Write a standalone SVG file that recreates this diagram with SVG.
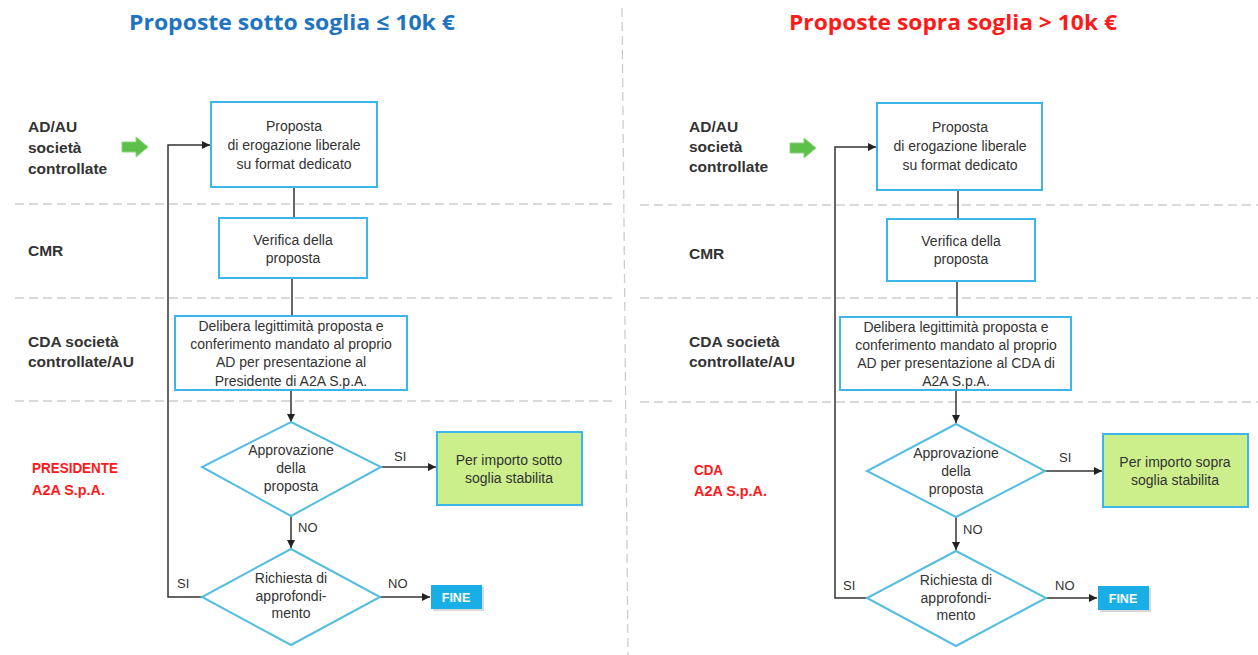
<svg xmlns="http://www.w3.org/2000/svg" width="1258" height="655" viewBox="0 0 1258 655">
<defs>
<marker id="ah" viewBox="0 0 10 10" refX="10" refY="5" markerWidth="8" markerHeight="8" markerUnits="userSpaceOnUse" orient="auto">
<path d="M0,0 L10,5 L0,10 z" fill="#222"/>
</marker>
<style>
.bg{fill:#fff}
.dash{stroke:#cdcdcd;stroke-width:1.3;stroke-dasharray:9,5;fill:none}
.title{font-family:"Open Sans","Liberation Sans",sans-serif;font-weight:bold;font-size:22px;text-anchor:middle}
.lane{font-family:"Liberation Sans",Arial,sans-serif;font-weight:bold;font-size:15.5px;fill:#333}
.lane-red{font-family:"Liberation Sans",Arial,sans-serif;font-weight:bold;font-size:15px;fill:#ff1a1a}
.box{fill:#fff;stroke:#3cb6e8;stroke-width:2}
.green{fill:#ccef8c;stroke:#3cb6e8;stroke-width:2}
.dia{fill:#fff;stroke:#55bde0;stroke-width:2}
.t{font-family:"Liberation Sans",Arial,sans-serif;font-size:14px;fill:#333;text-anchor:middle}
.lbl{font-family:"Liberation Sans",Arial,sans-serif;font-size:13px;fill:#333}
.fine{fill:#19aee6}
.finet{font-family:"Liberation Sans",Arial,sans-serif;font-weight:bold;font-size:12.5px;fill:#fff;text-anchor:middle}
.ln{stroke:#333;stroke-width:1.5;fill:none}
.arr{stroke:#333;stroke-width:1.5;fill:none;marker-end:url(#ah)}
.garrow{fill:#5cc04a;stroke:#8bd47a;stroke-width:1}
</style>
</defs>
<rect class="bg" x="0" y="0" width="1258" height="655"/>

<g id="grid">
<path class="dash" d="M622,8 L628,655"/>
<path class="dash" d="M15,204 L612,204 M15,298 L612,298 M15,401 L612,401"/>
<path class="dash" d="M640,205 L1258,205 M640,298 L1258,298 M640,402 L1258,402"/>
</g>

<g id="titles">
<text class="title" x="292" y="30" fill="#1f74c2" textLength="326" lengthAdjust="spacingAndGlyphs">Proposte sotto soglia ≤ 10k €</text>
<text class="title" x="953" y="30" fill="#ff1a1a" textLength="328" lengthAdjust="spacingAndGlyphs">Proposte sopra soglia &gt; 10k €</text>
</g>

<g id="lanes-left">
<text class="lane" x="28" y="132">AD/AU</text>
<text class="lane" x="28" y="153">società</text>
<text class="lane" x="28" y="174">controllate</text>
<text class="lane" x="28" y="256">CMR</text>
<text class="lane" x="28" y="347">CDA società</text>
<text class="lane" x="28" y="367">controllate/AU</text>
<text class="lane-red" x="32" y="473" textLength="86" lengthAdjust="spacingAndGlyphs">PRESIDENTE</text>
<text class="lane-red" x="32" y="495" textLength="73" lengthAdjust="spacingAndGlyphs">A2A S.p.A.</text>
</g>
<g id="lanes-right">
<text class="lane" x="689" y="132">AD/AU</text>
<text class="lane" x="689" y="152">società</text>
<text class="lane" x="689" y="172">controllate</text>
<text class="lane" x="689" y="259">CMR</text>
<text class="lane" x="689" y="347">CDA società</text>
<text class="lane" x="689" y="367">controllate/AU</text>
<text class="lane-red" x="694" y="475" textLength="29" lengthAdjust="spacingAndGlyphs">CDA</text>
<text class="lane-red" x="694" y="496" textLength="73" lengthAdjust="spacingAndGlyphs">A2A S.p.A.</text>
</g>

<g id="start-arrow-left">
<path class="garrow" d="M122,142 L136,142 L136,137 L148,147 L136,157 L136,152 L122,152 z"/>
</g>
<g id="start-arrow-right">
<path class="garrow" d="M790,143 L804,143 L804,138 L816,148 L804,158 L804,153 L790,153 z"/>
</g>

<g id="connectors">
<path class="ln" d="M294,187 L294,218"/>
<path class="ln" d="M292,278 L292,316"/>
<path class="arr" d="M291,390 L291,422"/>
<path class="arr" d="M381,467 L436,467"/>
<path class="arr" d="M291,516 L291,548"/>
<path class="arr" d="M380,597 L430,597"/>
<path class="arr" d="M202,597 L168,597 L168,145 L210,145"/>
<path class="ln" d="M958,190 L958,219"/>
<path class="ln" d="M957,281 L957,317"/>
<path class="arr" d="M956,390 L956,423"/>
<path class="arr" d="M1045,471 L1102,471"/>
<path class="arr" d="M956,517 L956,550"/>
<path class="arr" d="M1046,598 L1097,598"/>
<path class="arr" d="M867,598 L835,598 L835,147 L876,147"/>
<text class="lbl" x="394" y="461">SI</text>
<text class="lbl" x="298" y="532">NO</text>
<text class="lbl" x="388" y="588">NO</text>
<text class="lbl" x="177" y="588">SI</text>
<text class="lbl" x="1059" y="462">SI</text>
<text class="lbl" x="963" y="534">NO</text>
<text class="lbl" x="1055" y="590">NO</text>
<text class="lbl" x="843" y="590">SI</text>
</g>

<g id="L-proposta">
<rect class="box" x="211" y="102" width="166" height="85"/>
<text class="t" x="294" y="131">Proposta</text>
<text class="t" x="294" y="150">di erogazione liberale</text>
<text class="t" x="294" y="169">su format dedicato</text>
</g>
<g id="L-verifica">
<rect class="box" x="219" y="218" width="148" height="60"/>
<text class="t" x="293" y="245">Verifica della</text>
<text class="t" x="293" y="263">proposta</text>
</g>
<g id="L-delibera">
<rect class="box" x="175" y="316" width="232" height="74"/>
<text class="t" x="291" y="331">Delibera legittimità proposta e</text>
<text class="t" x="291" y="349">conferimento mandato al proprio</text>
<text class="t" x="291" y="367">AD per presentazione al</text>
<text class="t" x="291" y="386">Presidente di A2A S.p.A.</text>
</g>
<g id="L-approvazione">
<path class="dia" d="M291,422 L381,467 L291,516 L202,467 z"/>
<text class="t" x="291" y="455">Approvazione</text>
<text class="t" x="291" y="473">della</text>
<text class="t" x="291" y="491">proposta</text>
</g>
<g id="L-soglia">
<rect class="green" x="437" y="432" width="145" height="73"/>
<text class="t" x="509" y="465">Per importo sotto</text>
<text class="t" x="509" y="483">soglia stabilita</text>
</g>
<g id="L-richiesta">
<path class="dia" d="M291,549 L380,597 L291,645 L202,597 z"/>
<text class="t" x="291" y="583">Richiesta di</text>
<text class="t" x="291" y="601">approfondi-</text>
<text class="t" x="291" y="618">mento</text>
</g>
<g id="L-fine">
<rect x="433" y="587" width="51" height="24" fill="#d8d8d8"/>
<rect class="fine" x="431" y="585" width="51" height="24"/>
<text class="finet" x="456" y="602">FINE</text>
</g>

<g id="R-proposta">
<rect class="box" x="877" y="103" width="165" height="87"/>
<text class="t" x="960" y="132">Proposta</text>
<text class="t" x="960" y="151">di erogazione liberale</text>
<text class="t" x="960" y="170">su format dedicato</text>
</g>
<g id="R-verifica">
<rect class="box" x="887" y="219" width="148" height="62"/>
<text class="t" x="961" y="246">Verifica della</text>
<text class="t" x="961" y="264">proposta</text>
</g>
<g id="R-delibera">
<rect class="box" x="840" y="317" width="231" height="73"/>
<text class="t" x="956" y="332">Delibera legittimità proposta e</text>
<text class="t" x="956" y="350">conferimento mandato al proprio</text>
<text class="t" x="956" y="368">AD per presentazione al CDA di</text>
<text class="t" x="956" y="386">A2A S.p.A.</text>
</g>
<g id="R-approvazione">
<path class="dia" d="M956,424 L1045,471 L956,517 L867,471 z"/>
<text class="t" x="956" y="458">Approvazione</text>
<text class="t" x="956" y="476">della</text>
<text class="t" x="956" y="494">proposta</text>
</g>
<g id="R-soglia">
<rect class="green" x="1103" y="434" width="145" height="73"/>
<text class="t" x="1175" y="467">Per importo sopra</text>
<text class="t" x="1175" y="485">soglia stabilita</text>
</g>
<g id="R-richiesta">
<path class="dia" d="M956,551 L1046,598 L956,646 L867,598 z"/>
<text class="t" x="956" y="585">Richiesta di</text>
<text class="t" x="956" y="603">approfondi-</text>
<text class="t" x="956" y="620">mento</text>
</g>
<g id="R-fine">
<rect x="1100" y="588" width="51" height="24" fill="#d8d8d8"/>
<rect class="fine" x="1098" y="586" width="51" height="24"/>
<text class="finet" x="1123" y="603">FINE</text>
</g>
</svg>
